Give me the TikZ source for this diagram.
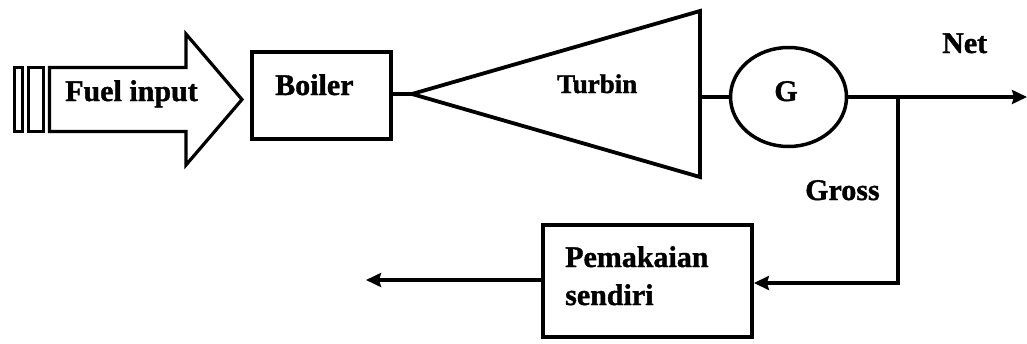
\documentclass[tikz,border=0pt]{standalone}
\usepackage{fontspec}
\setmainfont{Liberation Serif}[BoldFeatures={FakeBold=1.2}]
\usetikzlibrary{shapes.geometric,arrows.meta}
\begin{document}
\begin{tikzpicture}[x=1pt,y=-1pt,
  lbl/.style={font=\fontsize{30}{36}\selectfont\bfseries, inner sep=0pt, anchor=base west},
  box/.style={draw, line width=3.8pt, inner sep=0pt},
  conn/.style={line width=3.8pt},
  arr/.style={conn, -{Stealth[length=15pt,width=14pt,inset=2pt]}},
  outl/.style={line width=3.2pt, line join=miter}]
\useasboundingbox (0,0) rectangle (1027,343);
% Fuel input hollow arrow
\draw[outl] (14.5,67.5) rectangle (22.5,131.5);
\draw[outl] (28.5,67.5) rectangle (43.5,131.5);
\draw[outl] (49.5,67.5) -- (186,67.5) -- (186,34) -- (242,99.5) -- (186,165) -- (186,131.5) -- (49.5,131.5) -- cycle;
\node[lbl] (fuel) at (65,101) {Fuel input};
% Boiler
\node[box, minimum width=139pt, minimum height=87pt] (boiler) at (321.5,95.5) {};
\node[lbl] (boilert) at (275,95) {Boiler};
% Turbine
\coordinate (ttip) at (412,94);
\coordinate (ttop) at (700,11);
\coordinate (tbot) at (700,177);
\coordinate (tmid) at (700,97);
\draw[line width=3.8pt, line join=miter] (ttip) -- (ttop) -- (tbot) -- cycle;
\node[lbl, font=\fontsize{27}{32}\selectfont\bfseries] (turbt) at (557,93) {Turbin};
\draw[conn] (boiler.east |- ttip) -- (ttip);
% Generator
\node[draw, ellipse, line width=3.5pt, minimum width=116pt, minimum height=99pt, inner sep=0pt] (gen) at (788.5,97) {};
\node[lbl, anchor=base] (gt) at (786,101) {G};
\draw[conn] (tmid) -- (gen.west);
% Outputs
\coordinate (out) at (1027,97);
\coordinate (br) at (898,97);
\coordinate (brd) at (898,283);
\draw[arr] (gen.east) -- (out);
\node[lbl] (net) at (942,53) {Net};
\node[lbl] (gross) at (805,200) {Gross};
% Pemakaian sendiri
\node[box, minimum width=209pt, minimum height=112pt] (pem) at (647.5,281) {};
\node[lbl] (pem1) at (565,267) {Pemakaian};
\node[lbl] (pem2) at (565,305) {sendiri};
\draw[arr, line join=miter] (br) -- (brd) -- (pem.east |- brd);
\coordinate (lout) at (366,280);
\draw[arr] (pem.west |- lout) -- (lout);
\end{tikzpicture}
\end{document}
